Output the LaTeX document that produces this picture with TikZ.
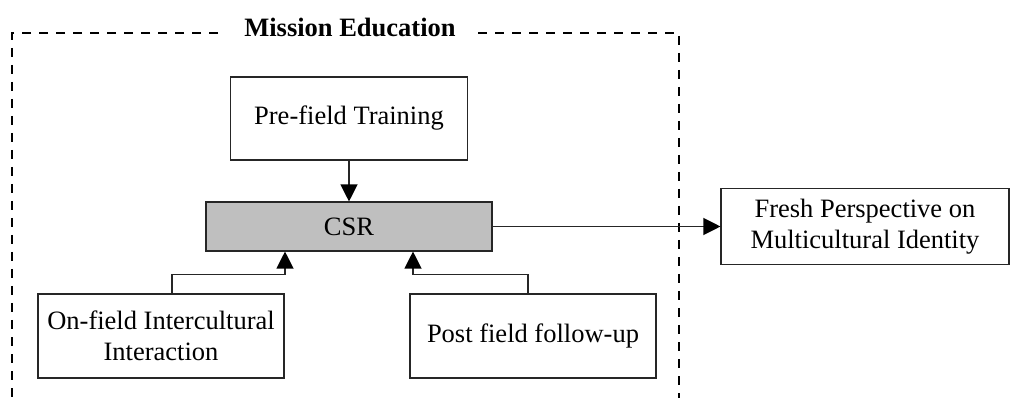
\documentclass[tikz,border=0pt]{standalone}
\usepackage{fontspec}
\setmainfont{Liberation Serif}
\usetikzlibrary{arrows.meta}
\begin{document}
\begin{tikzpicture}[x=1pt,y=-1pt,
  every node/.style={font=\fontsize{26.5}{30.5}\selectfont},
  box/.style={draw=black!85,line width=1.1pt,align=center,inner sep=0pt},
  frame/.style={line width=2.6pt,dash pattern=on 9pt off 8pt},
  conn/.style={draw=black!85,line width=1.2pt},
  arr/.style={conn,-{Triangle[length=17pt,width=17pt,color=black,fill=black]}}]
\useasboundingbox (0,0) rectangle (1010,398);

% dashed frame with the title set into its top edge
\node[font=\fontsize{26.5}{30.5}\selectfont\bfseries,inner sep=0pt] (title) at (350,27) {Mission Education};
\coordinate (ftl) at (12,33);
\coordinate (ftr) at (679,33);
\begin{scope}
\clip (0,0) rectangle (1010,398);
\draw[frame] (218,33) -- (ftl) -- (12,410);
\draw[frame] (478,33) -- (ftr) -- (679,410);
\end{scope}

% boxes
\node[box,minimum width=237pt,minimum height=83pt] (pre) at (349,118.5) {Pre-field Training};
\node[box,fill=black!25,minimum width=286pt,minimum height=49pt] (csr) at (349,226.5) {CSR};
\node[box,minimum width=246pt,minimum height=84pt] (onf) at (161,336) {On-field Intercultural\\Interaction};
\node[box,minimum width=246pt,minimum height=84pt] (post) at (533,336) {Post field follow-up};
\node[box,minimum width=288pt,minimum height=76pt] (fresh) at (865,226.5) {Fresh Perspective on\\Multicultural Identity};

% connectors
\draw[arr] (pre.south) -- (csr.north);
\draw[arr] ([xshift=11pt]onf.north) -- ++(0,-19.3) -| ([xshift=-64pt]csr.south);
\draw[arr] ([xshift=-5pt]post.north) -- ++(0,-19.3) -| ([xshift=64pt]csr.south);
\draw[arr] (csr.east) -- (fresh.west);
\end{tikzpicture}
\end{document}
